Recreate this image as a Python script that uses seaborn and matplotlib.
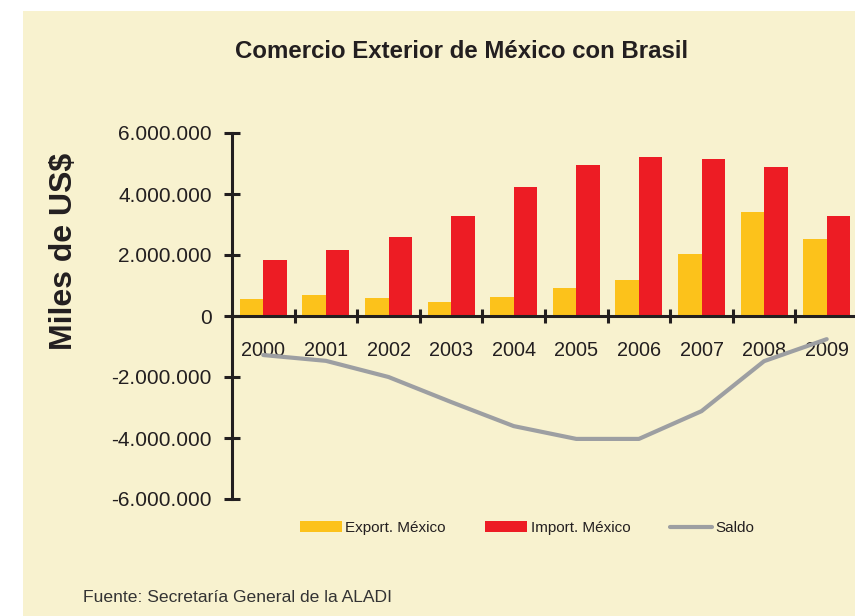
import numpy as np
import pandas as pd
import matplotlib
matplotlib.use("Agg")
import matplotlib.pyplot as plt
import seaborn as sns
from matplotlib.patches import Patch, Rectangle
from matplotlib.lines import Line2D

years = ["2000", "2001", "2002", "2003", "2004", "2005", "2006", "2007", "2008", "2009"]
export_mx = [560000, 690000, 590000, 460000, 620000, 920000, 1180000, 2030000, 3410000, 2520000]
import_mx = [1840000, 2160000, 2590000, 3280000, 4230000, 4950000, 5210000, 5150000, 4890000, 3280000]
saldo = [-1280000, -1470000, -2000000, -2820000, -3610000, -4030000, -4030000, -3120000, -1480000, -760000]
ytick_vals = [-6000000, -4000000, -2000000, 0, 2000000, 4000000, 6000000]
ytick_labels = ["-6.000.000", "-4.000.000", "-2.000.000", "0", "2.000.000", "4.000.000", "6.000.000"]
series_names = ["Export. México", "Import. México", "Saldo"]

title = "Comercio Exterior de México con Brasil"
ylabel = "Miles de US$"
source = "Fuente: Secretaría General de la ALADI"

C_EXP = "#FCC21B"
C_IMP = "#ED1C24"
C_SAL = "#9D9FA2"
C_TXT = "#231F20"
BG = "#F8F2CF"

sns.set_theme(style="white")
plt.rcParams["font.family"] = ["Liberation Sans", "DejaVu Sans"]

W, H = 855, 616
fig = plt.figure(figsize=(W / 100, H / 100), dpi=100, facecolor="white")
fig.patches.append(Rectangle((23 / W, 0), 1 - 23 / W, 1 - 11 / H, transform=fig.transFigure,
                             facecolor=BG, edgecolor="none", zorder=-10))

ax = fig.add_axes([232 / W, 1 - 499 / H, 626 / W, 366 / H])
ax.set_facecolor("none")

df = pd.DataFrame({
    "year": years * 2,
    "value": export_mx + import_mx,
    "serie": [series_names[0]] * len(years) + [series_names[1]] * len(years),
})
sns.barplot(data=df, x="year", y="value", hue="serie", order=years,
            hue_order=series_names[:2], palette=[C_EXP, C_IMP], width=0.75,
            saturation=1, linewidth=0, ax=ax, legend=False)

dl = pd.DataFrame({"pos": np.arange(len(years)), "saldo": saldo})
sns.lineplot(data=dl, x="pos", y="saldo", color=C_SAL, linewidth=3, ax=ax)

ax.set_xlim(-0.5, 9.5)
ax.set_ylim(-6000000, 6000000)
ax.set_xlabel("")
ax.set_ylabel("")

for s in ["top", "right"]:
    ax.spines[s].set_visible(False)
for s in ["left", "bottom"]:
    ax.spines[s].set_color(C_TXT)
    ax.spines[s].set_linewidth(2.2)
ax.spines["bottom"].set_position(("data", 0))

ax.set_yticks(ytick_vals)
ax.set_yticklabels(ytick_labels)
ax.tick_params(axis="y", direction="inout", length=11, width=2.2, color=C_TXT,
               labelsize=15, labelcolor=C_TXT, pad=9, left=True)

ax.set_xticks(np.arange(len(years)))
ax.set_xticklabels(years)
ax.set_xticks(np.arange(len(years) - 1) + 0.5, minor=True)
ax.tick_params(axis="x", which="major", length=0, labelsize=14.3, labelcolor=C_TXT, pad=18)
ax.tick_params(axis="x", which="minor", direction="inout", length=10, width=2.2,
               color=C_TXT, bottom=True)

fig.text(462 / W, 1 - 52 / H, title, ha="center", va="center", fontsize=17.3,
         fontweight="bold", color=C_TXT)
fig.text(64 / W, 1 - 251 / H, ylabel, ha="center", va="center", rotation=90,
         fontsize=23, fontweight="bold", color=C_TXT)
fig.text(83 / W, 1 - 598 / H, source, ha="left", va="center", fontsize=12.6, color="#333333")

handles = [Patch(facecolor=C_EXP, edgecolor="none"),
           Patch(facecolor=C_IMP, edgecolor="none"),
           Line2D([0], [0], color=C_SAL, linewidth=3)]
fig.legend(handles, series_names, loc="center", bbox_to_anchor=(527 / W, 1 - 528 / H),
           ncol=3, frameon=False, fontsize=11, handlelength=2.75, handleheight=0.75,
           handletextpad=0.2, columnspacing=2.6, labelcolor=C_TXT)

fig.savefig("out.png", dpi=100, facecolor="white")
